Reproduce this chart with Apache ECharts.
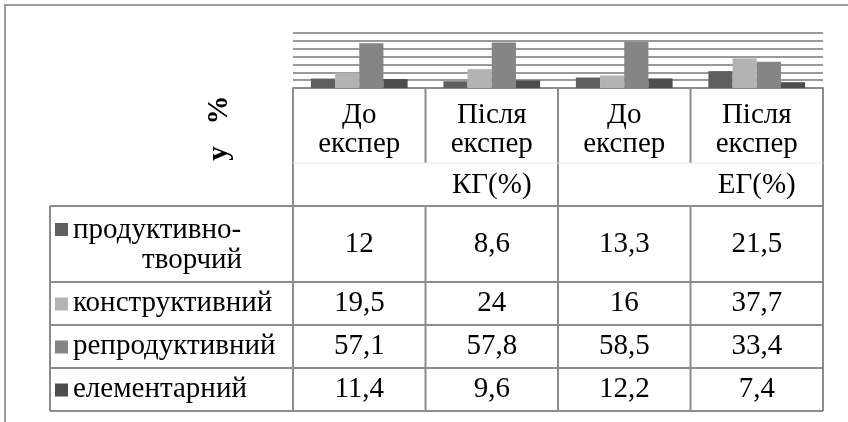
<!DOCTYPE html>
<html><head><meta charset="utf-8">
<script src="https://cdn.jsdelivr.net/npm/echarts@6/dist/echarts.min.js"></script>
<style>html,body{margin:0;padding:0;background:#fff}#c{width:848px;height:422px}</style>
</head><body><div id="c"></div>
<script>
// ---- data ----
const categories = ['До\nекспер', 'Після\nекспер', 'До\nекспер', 'Після\nекспер'];
const groups = ['КГ(%)', 'ЕГ(%)'];
const seriesNames = ['продуктивно-творчий', 'конструктивний', 'репродуктивний', 'елементарний'];
const productiveCreative = [12, 8.6, 13.3, 21.5];
const constructive = [19.5, 24, 16, 37.7];
const reproductive = [57.1, 57.8, 58.5, 33.4];
const elementary = [11.4, 9.6, 12.2, 7.4];
const yMin = 0, yMax = 70, yStep = 10;
const yTitle = 'у   %';

// ---- layout / style ----
const colors = ['#5f5f5f', '#b3b3b3', '#858585', '#4d4d4d'];
const FONT = '"Liberation Serif", "Times New Roman", serif';
const FS = 29;
const LINE = '#8c8c8c';
const gridL = 293, gridR = 823, gridT = 33, gridB = 88;
const W = 848, H = 422;
const colW = (gridR - gridL) / categories.length;
const tableL = 50;
const rowLines = [206, 282, 325, 368, 411];
const allSeries = [productiveCreative, constructive, reproductive, elementary];
const fmt = v => String(v).replace('.', ',');

const chart = echarts.init(document.getElementById('c'), null, {renderer: 'canvas', width: W, height: H});

const g = [];
function line(x1, y1, x2, y2, stroke, w) {
  g.push({type: 'line', z: 50, shape: {x1, y1, x2, y2}, style: {stroke: stroke || LINE, lineWidth: w || 2}});
}
function text(t, x, y, align, opts) {
  g.push({type: 'text', z: 60, x, y, rotation: (opts && opts.rotation) || 0,
    style: Object.assign({text: t, font: ((opts && opts.weight) || 'normal') + ' ' + FS + 'px ' + FONT,
      fill: '#000', align: align || 'center', verticalAlign: 'middle', lineHeight: 30}, (opts && opts.style) || {})});
}
// outer frame
g.push({type: 'rect', z: 1, shape: {x: 5, y: 5, width: 900, height: 500}, style: {fill: 'none', stroke: '#9a9a9a', lineWidth: 2}});
// header verticals
for (let i = 0; i <= categories.length; i++) {
  const x = gridL + i * colW;
  const full = (i % 2 === 0);
  line(x, gridB, x, full ? rowLines[0] : 163);
}
line(gridL, 163, gridR, 163, '#e6e6e6', 1);
// group labels
groups.forEach((t, i) => text(t, gridL + (2 * i + 1.5) * colW, 185, 'center'));
// table lines
rowLines.forEach(y => line(tableL, y, gridR, y));
line(tableL, rowLines[0], tableL, rowLines[4]);
for (let i = 0; i <= categories.length; i++) {
  const x = gridL + i * colW;
  line(x, rowLines[0], x, rowLines[4]);
}
// rows
seriesNames.forEach((name, r) => {
  const yc = (rowLines[r] + rowLines[r + 1]) / 2;
  if (name.indexOf('-') > 0 && r === 0) {
    const parts = [name.slice(0, name.indexOf('-') + 1), name.slice(name.indexOf('-') + 1)];
    g.push({type: 'rect', z: 60, shape: {x: 55, y: yc - 15 - 6, width: 13, height: 13}, style: {fill: colors[r]}});
    text(parts[0], 73, yc - 14, 'left');
    text(parts[1], 192, yc + 16, 'center');
  } else {
    g.push({type: 'rect', z: 60, shape: {x: 55, y: yc - 6, width: 13, height: 13}, style: {fill: colors[r]}});
    text(name, 73, yc, 'left');
  }
  allSeries[r].forEach((v, c) => text(fmt(v), gridL + (c + 0.5) * colW, yc, 'center'));
});
// y title
text(yTitle, 220, 128, 'center', {rotation: Math.PI / 2, weight: 'bold'});

chart.setOption({
  animation: false,
  backgroundColor: '#fff',
  grid: {left: gridL, right: W - gridR, top: gridT, bottom: H - gridB, containLabel: false},
  xAxis: {
    type: 'category', data: categories,
    axisLine: {show: true, lineStyle: {color: LINE, width: 2}},
    axisTick: {show: false},
    axisLabel: {color: '#000', fontFamily: FONT, fontSize: FS, lineHeight: 29, margin: 13, interval: 0}
  },
  yAxis: {
    type: 'value', min: yMin, max: yMax, interval: yStep,
    axisLine: {show: false}, axisTick: {show: false}, axisLabel: {show: false},
    splitLine: {show: true, lineStyle: {color: '#9a9a9a', width: 2}}
  },
  series: allSeries.map((d, i) => ({
    name: seriesNames[i], type: 'bar', data: d, barGap: '0%', barCategoryGap: '27%',
    itemStyle: {color: colors[i]}
  })),
  graphic: g
});
</script></body></html>
